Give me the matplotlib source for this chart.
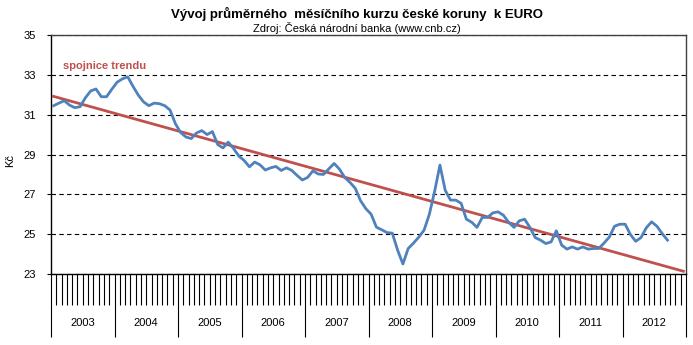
import numpy as np
import matplotlib.pyplot as plt

# monthly average CZK/EUR
years = [2003, 2004, 2005, 2006, 2007, 2008, 2009, 2010, 2011, 2012]
k2003 = [31.45, 31.58, 31.70, 31.48, 31.35, 31.40, 31.85, 32.19, 32.29, 31.90, 31.90, 32.28]
k2004 = [32.63, 32.80, 32.90, 32.42, 31.98, 31.64, 31.45, 31.58, 31.55, 31.45, 31.23, 30.55]
k2005 = [30.10, 29.88, 29.80, 30.08, 30.20, 30.00, 30.15, 29.50, 29.33, 29.62, 29.30, 28.92]
k2006 = [28.70, 28.38, 28.62, 28.48, 28.22, 28.33, 28.40, 28.20, 28.33, 28.20, 27.95, 27.72]
k2007 = [27.85, 28.18, 28.02, 28.00, 28.28, 28.55, 28.27, 27.85, 27.60, 27.30, 26.68, 26.28]
k2008 = [26.00, 25.35, 25.22, 25.08, 25.05, 24.20, 23.50, 24.28, 24.55, 24.85, 25.20, 26.00]
k2009 = [27.15, 28.47, 27.20, 26.71, 26.71, 26.55, 25.75, 25.60, 25.34, 25.84, 25.84, 26.07]
k2010 = [26.12, 25.95, 25.59, 25.34, 25.67, 25.75, 25.34, 24.83, 24.70, 24.53, 24.61, 25.17]
k2011 = [24.45, 24.25, 24.36, 24.25, 24.36, 24.25, 24.28, 24.28, 24.55, 24.85, 25.40, 25.50]
k2012 = [25.50, 24.98, 24.64, 24.83, 25.32, 25.62, 25.40, 25.03, 24.70]

kurz = k2003 + k2004 + k2005 + k2006 + k2007 + k2008 + k2009 + k2010 + k2011 + k2012

plt.rcParams['font.family'] = ['Liberation Sans', 'DejaVu Sans']

fig = plt.figure(figsize=(6.93, 3.45), dpi=100)
ax = fig.add_axes([51 / 693, 71 / 345, 635 / 693, 239 / 345])

x = np.arange(len(kurz)) + 0.5
ax.plot(x, kurz, color='#4F81BD', lw=2, zorder=3)

# linear trend, forecast 3 periods forward like Excel
coef = np.polyfit(x, kurz, 1)
xt = np.array([x[0], x[-1] + 3])
ax.plot(xt, np.polyval(coef, xt), color='#C0504D', lw=2, zorder=2)

ax.text(2.2, 33.45, 'spojnice trendu', color='#C0504D', fontsize=8,
        fontweight='bold', va='center')

ax.set_xlim(0, 12 * len(years))
ax.set_ylim(23, 35)
ax.set_yticks(range(23, 36, 2))
ax.grid(axis='y', color='black', lw=0.8, ls=(0, (4, 3)))
ax.set_axisbelow(True)

# category axis: month boundaries short, year boundaries long
ax.set_xticks(range(0, 12 * len(years) + 1, 12))
ax.set_xticks(range(0, 12 * len(years) + 1), minor=True)
ax.set_xticklabels([])
ax.tick_params(axis='x', which='major', length=45, width=0.8, direction='out')
ax.tick_params(axis='x', which='minor', length=22, width=0.8, direction='out')
ax.tick_params(axis='y', length=3, width=0.8, labelsize=8, pad=8)

for k, yr in enumerate(years):
    ax.annotate(str(yr), xy=(12 * k + 6, 0), xycoords=('data', 'axes fraction'),
                xytext=(0, -35), textcoords='offset points',
                ha='center', va='center', fontsize=8)

for s in ['left', 'bottom']:
    ax.spines[s].set_color('black')
    ax.spines[s].set_linewidth(1)
for s in ['top', 'right']:
    ax.spines[s].set_color('#404040')
    ax.spines[s].set_linewidth(1)

fig.text(10 / 693, 0.536, 'Kč', rotation=90, ha='center', va='center', fontsize=8)

fig.text(0.515, 0.958, 'Vývoj průměrného  měsíčního kurzu české koruny  k EURO',
         ha='center', va='center', fontsize=9.5, fontweight='bold')
fig.text(0.515, 0.918, 'Zdroj: Česká národní banka (www.cnb.cz)',
         ha='center', va='center', fontsize=8)

fig.savefig('out.png', dpi=100)
